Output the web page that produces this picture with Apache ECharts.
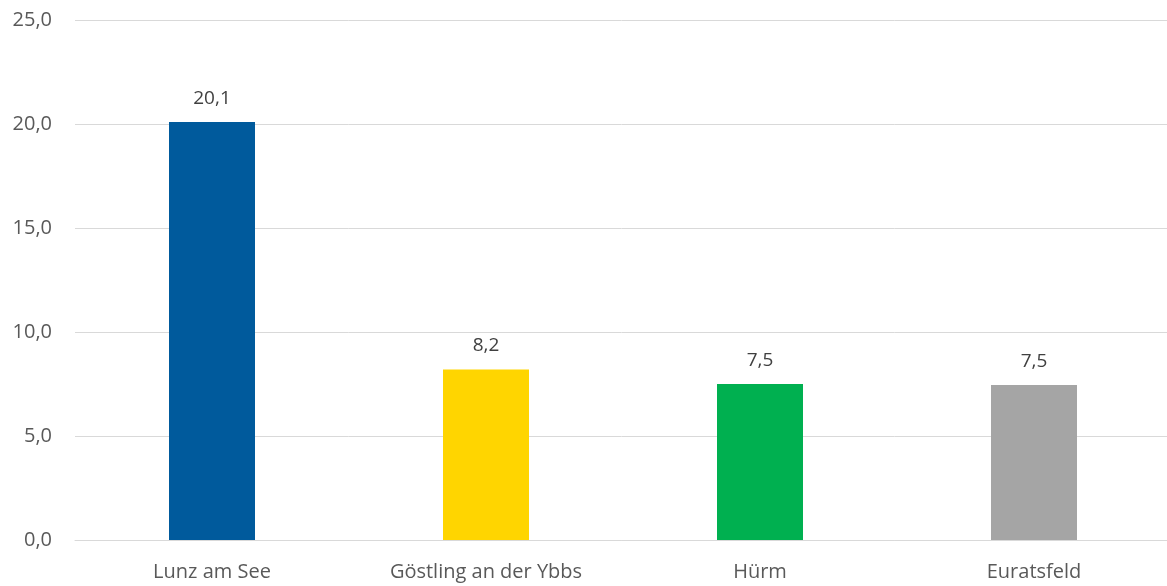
<!DOCTYPE html>
<html>
<head>
<meta charset="utf-8">
<script src="https://cdn.jsdelivr.net/npm/echarts@6/dist/echarts.min.js"></script>
<style>
  html, body { margin: 0; padding: 0; background: #fff; }
  #chart { width: 1167px; height: 586px; }
</style>
</head>
<body>
<div id="chart"></div>
<script>
const categories = ['Lunz am See', 'Göstling an der Ybbs', 'Hürm', 'Euratsfeld']
const values = [20.1, 8.2, 7.5, 7.45]
const barColors = ['#005A9C', '#FFD500', '#00B050', '#A5A5A5']

const fmt = v => v.toFixed(1).replace('.', ',')

let chart = echarts.init(document.getElementById('chart'))
chart.setOption({
  animation: false,
  textStyle: { fontFamily: 'Open Sans' },
  grid: { left: 75, width: 1096, top: 20, bottom: 46, outerBoundsMode: 'none' },
  xAxis: {
    type: 'category',
    data: categories,
    axisLine: { lineStyle: { color: '#d9d9d9' } },
    axisTick: { show: false },
    axisLabel: { color: '#595959', fontSize: 20, margin: 22 }
  },
  yAxis: {
    type: 'value',
    min: 0,
    max: 25,
    interval: 5,
    axisLine: { show: false },
    axisTick: { show: false },
    splitLine: { lineStyle: { color: '#d9d9d9', width: 1 } },
    axisLabel: { color: '#595959', fontSize: 20, margin: 23, formatter: fmt }
  },
  series: [
    {
      type: 'bar',
      barWidth: 86,
      data: values.map((v, i) => ({ value: v, itemStyle: { color: barColors[i] } })),
      label: {
        show: true,
        position: 'top',
        distance: 14,
        color: '#404040',
        fontSize: 19,
        formatter: p => fmt(p.value)
      }
    }
  ]
})
</script>
</body>
</html>
